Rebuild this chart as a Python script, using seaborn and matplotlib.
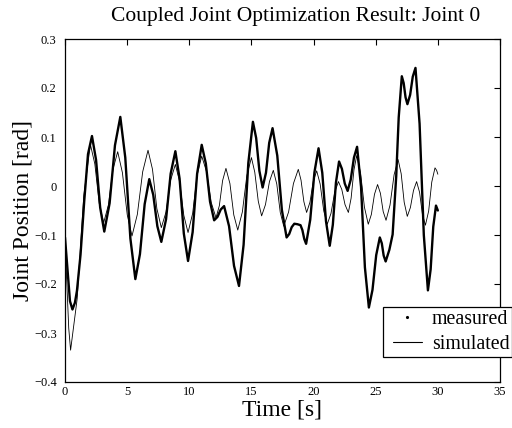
import matplotlib
matplotlib.use("Agg")
import matplotlib.pyplot as plt
import seaborn as sns
import pandas as pd
from matplotlib.lines import Line2D
from matplotlib.legend_handler import HandlerLine2D

# ---- data ----
sim_time = [
    0.00, 0.15, 0.30, 0.45,
    0.98, 1.51, 2.04,
    2.40, 2.75, 3.11,
    3.49, 3.86, 4.24,
    4.62, 5.01, 5.39,
    5.82, 6.25, 6.68,
    7.04, 7.39, 7.75,
    8.13, 8.50, 8.88,
    9.22, 9.56, 9.90,
    10.27, 10.63, 11.00,
    11.38, 11.77, 12.15,
    12.42, 12.68, 12.95,
    13.27, 13.58, 13.90,
    14.27, 14.63, 15.00,
    15.27, 15.55, 15.82,
    16.13, 16.45, 16.76,
    17.04, 17.32, 17.60,
    17.99, 18.38, 18.77,
    18.99, 19.22, 19.44,
    19.71, 19.98, 20.25,
    20.53, 20.82, 21.10,
    21.40, 21.70, 22.00,
    22.27, 22.53, 22.80,
    23.02, 23.25, 23.47,
    23.78, 24.09, 24.40,
    24.65, 24.90, 25.15,
    25.38, 25.60, 25.83,
    26.15, 26.48, 26.80,
    27.05, 27.29, 27.54,
    27.79, 28.04, 28.29,
    28.53, 28.76, 29.00,
    29.26, 29.51, 29.77,
    29.90, 30.00,
]
sim_pos = [
    -0.110, -0.200, -0.290, -0.335,
    -0.230, -0.020, 0.085,
    0.045, -0.035, -0.075,
    -0.039, 0.034, 0.070,
    0.027, -0.059, -0.102,
    -0.058, 0.029, 0.073,
    0.034, -0.046, -0.085,
    -0.053, 0.012, 0.044,
    0.009, -0.060, -0.095,
    -0.056, 0.022, 0.061,
    0.030, -0.034, -0.065,
    -0.040, 0.011, 0.036,
    0.005, -0.059, -0.090,
    -0.053, 0.021, 0.058,
    0.028, -0.031, -0.061,
    -0.038, 0.009, 0.032,
    0.004, -0.054, -0.082,
    -0.053, 0.005, 0.034,
    0.012, -0.032, -0.054,
    -0.033, 0.010, 0.031,
    0.004, -0.051, -0.078,
    -0.056, -0.013, 0.009,
    -0.007, -0.038, -0.054,
    -0.025, 0.033, 0.062,
    0.027, -0.043, -0.078,
    -0.058, -0.017, 0.003,
    -0.015, -0.052, -0.070,
    -0.039, 0.023, 0.054,
    0.025, -0.033, -0.062,
    -0.044, -0.009, 0.009,
    -0.013, -0.058, -0.080,
    -0.051, 0.008, 0.037,
    0.032, 0.024,
]

meas_time = [
    0.00, 0.20, 0.40, 0.60,
    0.80, 0.96,
    1.25, 1.55, 1.85, 2.17,
    2.50, 2.83, 3.16,
    3.59, 4.02, 4.45,
    4.85, 5.26, 5.66,
    6.03, 6.41, 6.78,
    7.10, 7.43, 7.75,
    8.13, 8.50, 8.88,
    9.22, 9.56, 9.90,
    10.27, 10.63, 11.00,
    11.33, 11.67, 12.00,
    12.27, 12.53, 12.80,
    13.20, 13.60, 14.00,
    14.37, 14.75, 15.12,
    15.38, 15.64, 15.90,
    16.17, 16.43, 16.70,
    17.08, 17.45, 17.83,
    18.04, 18.24, 18.45,
    18.70, 18.95,
    19.10, 19.25, 19.40,
    19.73, 20.07, 20.40,
    20.70, 21.00, 21.30,
    21.55, 21.80, 22.05,
    22.28, 22.51, 22.74,
    22.99, 23.25, 23.50,
    23.82, 24.13, 24.45,
    24.74, 25.04, 25.33,
    25.49, 25.64, 25.80,
    26.10, 26.36, 26.65, 26.85, 27.10,
    27.25, 27.40, 27.55,
    27.77, 27.98, 28.20,
    28.53, 28.87, 29.20,
    29.42, 29.63, 29.85,
    30.00,
]
meas_pos = [
    -0.105, -0.170, -0.235, -0.252,
    -0.238, -0.214,
    -0.140, -0.030, 0.065, 0.102,
    0.053, -0.044, -0.093,
    -0.035, 0.083, 0.141,
    0.058, -0.107, -0.190,
    -0.139, -0.037, 0.014,
    -0.018, -0.082, -0.114,
    -0.068, 0.025, 0.071,
    0.015, -0.097, -0.153,
    -0.094, 0.025, 0.084,
    0.046, -0.032, -0.070,
    -0.063, -0.048, -0.041,
    -0.082, -0.163, -0.204,
    -0.120, 0.047, 0.131,
    0.098, 0.031, -0.003,
    0.027, 0.088, 0.118,
    0.062, -0.049, -0.105,
    -0.098, -0.084, -0.077,
    -0.078, -0.080,
    -0.090, -0.108, -0.118,
    -0.069, 0.028, 0.077,
    0.027, -0.072, -0.122,
    -0.079, 0.007, 0.050,
    0.035, 0.005, -0.010,
    0.013, 0.058, 0.080,
    -0.002, -0.166, -0.248,
    -0.212, -0.141, -0.105,
    -0.117, -0.142, -0.154,
    -0.130, -0.099, 0.020, 0.140, 0.224,
    0.210, 0.181, 0.167,
    0.186, 0.223, 0.241,
    0.127, -0.100, -0.213,
    -0.170, -0.083, -0.040,
    -0.050,
]

x_ticks = [0, 5, 10, 15, 20, 25, 30, 35]
y_ticks = [-0.4, -0.3, -0.2, -0.1, 0.0, 0.1, 0.2, 0.3]
y_tick_labels = ["\u22120.4", "\u22120.3", "\u22120.2", "\u22120.1", "0", "0.1", "0.2", "0.3"]
title_text = "Coupled Joint Optimization Result: Joint 0"
x_label = "Time [s]"
y_label = "Joint Position [rad]"
legend_labels = ["measured", "simulated"]

# ---- style ----
sns.set_theme(style="white")
plt.rcParams["font.family"] = ["Liberation Serif", "DejaVu Serif"]
plt.rcParams["text.color"] = "black"
plt.rcParams["axes.labelcolor"] = "black"
plt.rcParams["xtick.color"] = "black"
plt.rcParams["ytick.color"] = "black"

meas_df = pd.DataFrame({"t": meas_time, "pos": meas_pos})
sim_df = pd.DataFrame({"t": sim_time, "pos": sim_pos})

fig = plt.figure(figsize=(5.12, 4.28), dpi=100)
ax = fig.add_axes([65 / 512, 1 - 382 / 428, 435 / 512, 343 / 428])

sns.lineplot(data=meas_df, x="t", y="pos", ax=ax, color="black",
             linewidth=1.7, estimator=None, sort=False)
sns.lineplot(data=sim_df, x="t", y="pos", ax=ax, color="black",
             linewidth=0.6, estimator=None, sort=False)

ax.set_xlim(0, 35)
ax.set_ylim(-0.4, 0.3)
ax.set_xticks(x_ticks)
ax.set_yticks(y_ticks)
ax.set_yticklabels(y_tick_labels)
ax.tick_params(direction="in", length=4, width=0.8, top=True, right=True,
               labelsize=9)
ax.tick_params(axis="x", pad=3)
ax.tick_params(axis="y", pad=6)
for s in ax.spines.values():
    s.set_visible(True)
    s.set_color("black")
    s.set_linewidth(0.9)

ax.set_title(title_text, fontsize=15.5, pad=13, x=0.53)
ax.set_xlabel(x_label, fontsize=17, labelpad=1)
ax.set_ylabel(y_label, fontsize=17, labelpad=0)

handles = [
    Line2D([], [], color="black", marker=".", markersize=2.5, linestyle="none"),
    Line2D([], [], color="black", linewidth=0.8),
]
leg = fig.legend(handles, legend_labels, loc="upper left",
                 bbox_to_anchor=(383 / 512, 1 - 307 / 428),
                 bbox_transform=fig.transFigure, frameon=True, fancybox=False,
                 fontsize=14.3, borderpad=0.15, labelspacing=0.3,
                 handlelength=1.81, handletextpad=0.5, borderaxespad=0,
                 handler_map={h: HandlerLine2D(xpad=0.35) for h in handles})
leg.get_frame().set_edgecolor("black")
leg.get_frame().set_linewidth(0.9)
leg.get_frame().set_alpha(1)

fig.savefig("out.png", dpi=100)
